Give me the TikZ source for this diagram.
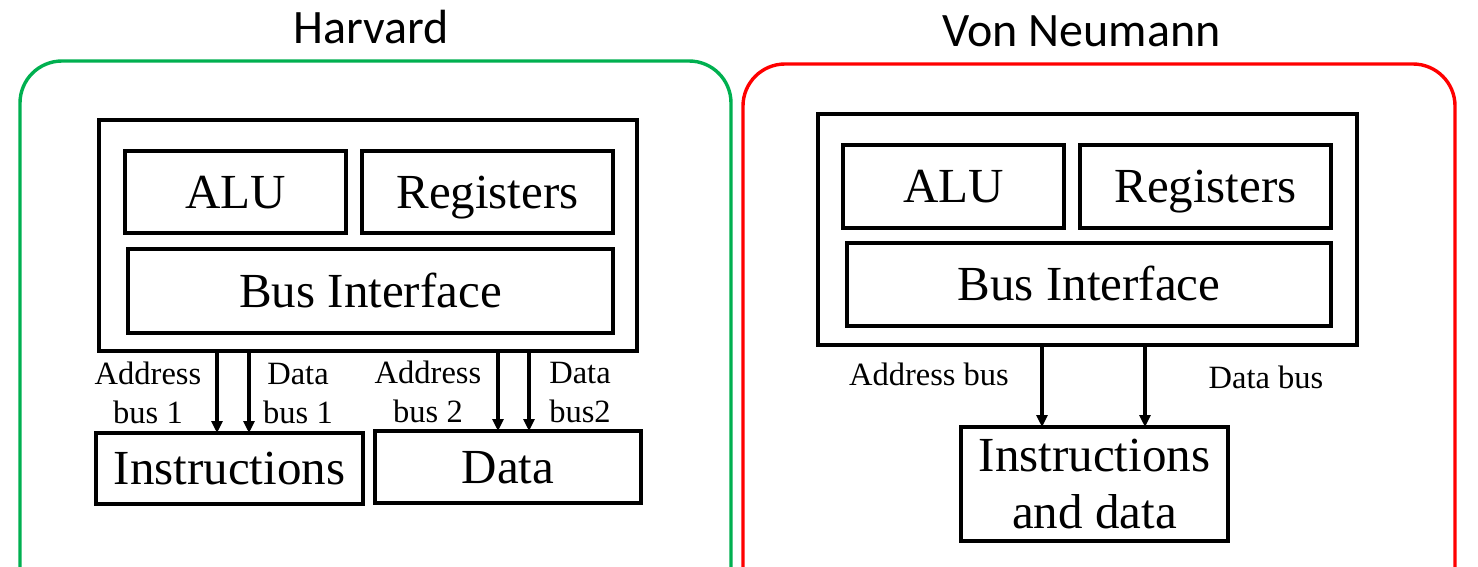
\documentclass[tikz,border=0pt]{standalone}
\usepackage{fontspec}
\setmainfont{Liberation Serif}
\newfontfamily\titlefont{Carlito}
\usetikzlibrary{arrows.meta}
\definecolor{hgreen}{RGB}{0,176,80}
\definecolor{vred}{RGB}{255,0,0}
\begin{document}
\begin{tikzpicture}[x=1pt,y=-1pt,
  box/.style={draw,line width=3.6pt,inner sep=0pt,outer sep=0pt},
  big/.style={font=\fontsize{49}{57}\selectfont},
  capc/.style={text height=32.4pt,text depth=0pt},
  lbl/.style={font=\fontsize{32.5}{39}\selectfont,align=center,inner sep=0pt},
  ttl/.style={font=\titlefont\fontsize{48}{58}\selectfont,inner sep=0pt},
  arr/.style={line width=3.6pt,-{Triangle[length=12pt,width=11pt]}},
  cont/.style={line width=3.4pt,rounded corners=42pt}]
\useasboundingbox (0,0) rectangle (1478,567);
\clip (0,0) rectangle (1478,567);
\fill[white] (0,0) rectangle (1478,567);

% containers
\draw[cont,hgreen] (20,640) -- (20,61) -- (731,61) -- (731,640);
\draw[cont,vred] (743,640) -- (743,64) -- (1455,64) -- (1455,640);

% titles
\node[ttl,anchor=base] (tH) at (371,44) {Harvard};
\node[ttl,anchor=base] (tV) at (1081.5,47) {Von Neumann};

% Harvard
\node[box,minimum width=538pt,minimum height=231pt] (cpuH) at (368,235.5) {};
\node[box,big,capc,minimum width=221pt,minimum height=82pt] (aluH) at (235.5,192) {ALU};
\node[box,big,capc,minimum width=251pt,minimum height=82pt] (regH) at (487.5,192) {Registers};
\node[box,big,capc,minimum width=485pt,minimum height=84pt] (busH) at (370.5,291) {Bus Interface};
\node[box,big,capc,minimum width=267pt,minimum height=71pt] (insH) at (229.5,468.5) {Instructions};
\node[box,big,capc,minimum width=266pt,minimum height=72pt] (datH) at (508,467) {Data};

\draw[arr] (217,0 |- cpuH.south) -- (217,0 |- insH.north);
\draw[arr] (249,0 |- cpuH.south) -- (249,0 |- insH.north);
\draw[arr] (498,0 |- cpuH.south) -- (498,0 |- datH.north);
\draw[arr] (529,0 |- cpuH.south) -- (529,0 |- datH.north);

\node[lbl,anchor=base] (la1) at (148,423) {Address\\bus 1};
\node[lbl,anchor=base] (ld1) at (298,423) {Data\\bus 1};
\node[lbl,anchor=base] (la2) at (428,422) {Address\\bus 2};
\node[lbl,anchor=base] (ld2) at (580,422) {Data\\bus2};

% Von Neumann
\node[box,minimum width=539pt,minimum height=231pt] (cpuV) at (1087.5,229.5) {};
\node[box,big,capc,minimum width=221pt,minimum height=83pt] (aluV) at (953.5,186.5) {ALU};
\node[box,big,capc,minimum width=251pt,minimum height=83pt] (regV) at (1205.5,186.5) {Registers};
\node[box,big,capc,minimum width=484pt,minimum height=83pt] (busV) at (1089,284.5) {Bus Interface};
\node[box,big,align=center,minimum width=267pt,minimum height=114pt] (memV) at (1094.5,484) {Instructions\\and data};

\draw[arr] (1042,0 |- cpuV.south) -- (1042,0 |- memV.north);
\draw[arr] (1145,0 |- cpuV.south) -- (1145,0 |- memV.north);

\node[lbl,anchor=base] (laV) at (929,385) {Address bus};
\node[lbl,anchor=base] (ldV) at (1266,388) {Data bus};
\end{tikzpicture}
\end{document}
